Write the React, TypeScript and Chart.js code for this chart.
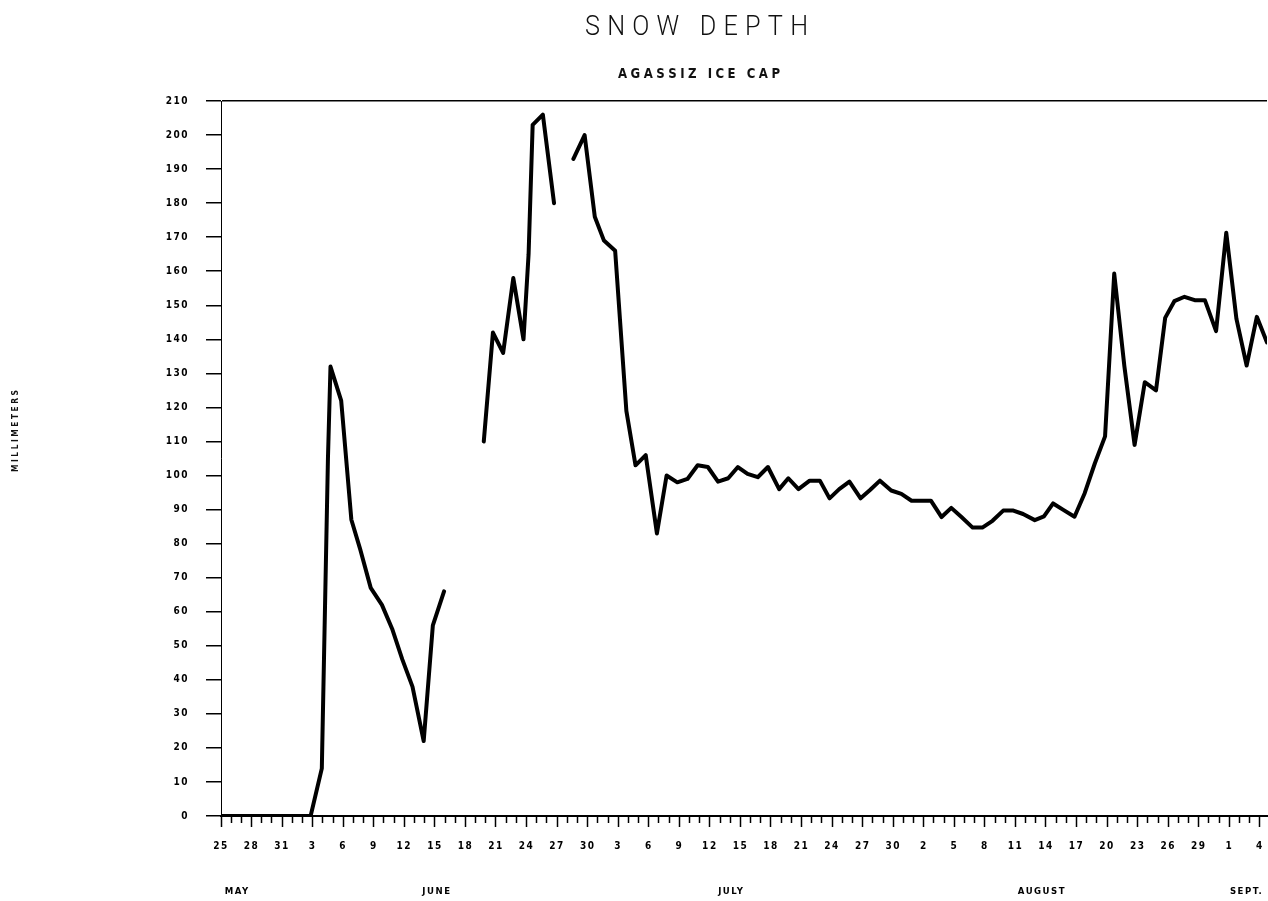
import React, { useEffect, useRef } from 'react';
import { Chart, registerables } from 'chart.js';

Chart.register(...registerables);

// ---- data (x = days since May 25, y = snow depth in mm; null = no reading) ----
const readingDays = [
  0, 0.8, 1.8, 2.8, 3.8, 4.8, 5.8, 6.8, 7.8, 8.8,
  9.9, 10.5, 10.75, 11.8, 12.8, 13.7, 14.7, 15.8, 16.8, 17.8, 18.8, 19.9, 20.8, 21.9,
  22.8,
  25.8, 26.7, 27.7, 28.7, 29.7, 30.2, 30.6, 31.6, 32.7,
  33.7,
  34.6, 35.7, 36.7, 37.6, 38.7, 39.8, 40.7, 41.7, 42.8, 43.75,
  44.8, 45.8, 46.8, 47.8, 48.8, 49.8, 50.75, 51.7, 52.7, 53.7,
  54.8, 55.7, 56.7, 57.8, 58.8, 59.75, 60.7, 61.7, 62.8, 63.75,
  64.7, 65.8, 66.8, 67.8, 68.8, 69.7, 70.75, 71.7, 72.7, 73.8,
  74.75, 75.75, 76.8, 77.8, 78.75, 79.9, 80.8, 81.7, 82.7, 83.8,
  84.8, 85.8, 86.8, 87.7, 88.7, 89.7, 90.7, 91.8, 92.7, 93.6,
  94.6, 95.6, 96.6, 97.7, 98.7, 99.7, 100.7, 101.7, 102.7,
];

const snowDepthMm: (number | null)[] = [
  0, 0, 0, 0, 0, 0, 0, 0, 0, 0,
  14, 105, 132, 122, 87, 78, 67, 62, 55, 46, 38, 22, 56, 66,
  null,
  110, 142, 136, 158, 140, 165, 203, 206, 180,
  null,
  193, 200, 176, 169, 166, 119, 103, 106, 83, 100,
  98, 99, 103, 102.5, 98.2, 99.2, 102.5, 100.5, 99.5, 102.5,
  96, 99.2, 96, 98.5, 98.5, 93.3, 96, 98.2, 93.3, 95.8,
  98.5, 95.6, 94.6, 92.6, 92.6, 92.6, 87.8, 90.5, 87.8, 84.7,
  84.7, 86.7, 89.7, 89.7, 88.7, 86.9, 88, 91.8, 89.9, 87.9,
  94.8, 103.6, 111.5, 159.3, 132, 109, 127.4, 125, 146.3, 151.2,
  152.5, 151.5, 151.5, 142.4, 171.3, 146, 132.3, 146.6, 139.1,
];

// one tick per day (0..102), labelled every third day
const dayTickLabels = [
  '25', '28', '31', '3', '6', '9', '12', '15', '18', '21', '24', '27', '30',
  '3', '6', '9', '12', '15', '18', '21', '24', '27', '30',
  '2', '5', '8', '11', '14', '17', '20', '23', '26', '29', '1', '4',
];
const dayTickCount = 103;
const xMaxDay = 102.7;

const monthLabels = ['MAY', 'JUNE', 'JULY', 'AUGUST', 'SEPT.'];
const monthLabelDays = [1.6, 21.2, 50.1, 80.6, 100.7];

const yTickValues = [0, 10, 20, 30, 40, 50, 60, 70, 80, 90, 100, 110, 120, 130, 140, 150, 160, 170, 180, 190, 200, 210];

const TITLE = 'SNOW DEPTH';
const SUBTITLE = 'AGASSIZ ICE CAP';
const Y_TITLE = 'MILLIMETERS';

const TICK_FONT = {
  family: "'DejaVu Sans Condensed', 'DejaVu Sans', sans-serif",
  weight: 'bold' as const,
  size: 10,
};

function drawFitted(
  ctx: CanvasRenderingContext2D,
  text: string,
  cx: number,
  cy: number,
  font: string,
  fontSize: number,
  width: number,
  gap: number,
  rot: number,
) {
  ctx.save();
  (ctx as any).letterSpacing = '0px';
  ctx.font = font;
  ctx.fillStyle = '#111';
  ctx.textBaseline = 'alphabetic';
  ctx.textAlign = 'left';
  const chars = Array.from(text);
  const ws = chars.map((c) => ctx.measureText(c).width);
  const natural = ws.reduce((a, b) => a + b, 0) + gap * (chars.length - 1);
  const sx = width / natural;
  ctx.translate(cx, cy);
  ctx.rotate(rot);
  ctx.scale(sx, 1);
  let x = -natural / 2;
  const base = fontSize * 0.36;
  chars.forEach((c, i) => {
    ctx.fillText(c, x, base);
    x += ws[i] + gap;
  });
  ctx.restore();
}

const scanTextPlugin = {
  id: 'scanText',
  beforeDraw(chart: any) {
    chart.ctx.letterSpacing = '1.5px';
  },
  afterDraw(chart: any) {
    const ctx = chart.ctx as CanvasRenderingContext2D;
    drawFitted(ctx, TITLE, 696.5, 25, '300 28px Roboto', 28, 223, 8, 0);
    drawFitted(ctx, SUBTITLE, 699, 73.5, "bold 13.5px 'DejaVu Sans'", 13.5, 162, 4, 0);
    drawFitted(ctx, Y_TITLE, 14.3, 431, "bold 9px 'DejaVu Sans'", 9, 82, 3, -Math.PI / 2);
  },
};

const noSidePadding = (s: any) => {
  s.paddingLeft = 0;
  s.paddingRight = 0;
};

export default function App() {
  const canvasRef = useRef<HTMLCanvasElement | null>(null);

  useEffect(() => {
    const canvas = canvasRef.current;
    if (!canvas) return;
    const points = readingDays.map((d, i) => ({ x: d, y: snowDepthMm[i] }));

    const chart = new Chart(canvas, {
      type: 'line',
      data: {
        datasets: [
          {
            data: points as any,
            borderColor: '#000',
            borderWidth: 4,
            pointRadius: 0,
            pointHoverRadius: 0,
            spanGaps: false,
            tension: 0,
            fill: false,
            borderJoinStyle: 'round',
            borderCapStyle: 'round',
          },
        ],
      },
      options: {
        animation: false,
        responsive: false,
        devicePixelRatio: 1,
        events: [],
        layout: { padding: { top: 101, right: 1, bottom: 0, left: 0 } },
        plugins: {
          legend: { display: false },
          tooltip: { enabled: false },
          title: { display: false },
        },
        scales: {
          x: {
            type: 'linear',
            position: 'bottom',
            weight: 1,
            min: 0,
            max: xMaxDay,
            afterBuildTicks: (s: any) => {
              s.ticks = Array.from({ length: dayTickCount }, (_, i) => ({ value: i }));
            },
            afterFit: (s: any) => {
              s.height = 45;
              noSidePadding(s);
            },
            border: { display: true, color: '#000', width: 2 },
            grid: {
              display: true,
              drawOnChartArea: false,
              drawTicks: true,
              tickLength: 11,
              tickWidth: 1.5,
              tickColor: '#000',
              tickBorderDash: (c: any) => (c.tick && c.tick.value % 3 === 0 ? [] : [6, 40]),
            },
            ticks: {
              autoSkip: false,
              maxRotation: 0,
              minRotation: 0,
              padding: 13,
              color: '#000',
              font: TICK_FONT,
              callback: (_v: any, i: number) => (i % 3 === 0 ? dayTickLabels[i / 3] : ''),
            },
          },
          xMonth: {
            type: 'linear',
            axis: 'x',
            position: 'bottom',
            weight: 2,
            min: 0,
            max: xMaxDay,
            afterBuildTicks: (s: any) => {
              s.ticks = monthLabelDays.map((v) => ({ value: v }));
            },
            afterFit: (s: any) => {
              s.height = 40;
              noSidePadding(s);
            },
            border: { display: false },
            grid: { display: false, drawTicks: false, tickLength: 0 },
            ticks: {
              autoSkip: false,
              maxRotation: 0,
              minRotation: 0,
              padding: 25,
              color: '#000',
              font: { ...TICK_FONT, size: 9.5 },
              callback: (_v: any, i: number) => monthLabels[i],
            },
          },
          y: {
            type: 'linear',
            position: 'left',
            min: 0,
            max: 210,
            afterBuildTicks: (s: any) => {
              s.ticks = yTickValues.map((v) => ({ value: v }));
            },
            afterFit: (s: any) => {
              s.width = 221;
            },
            border: { display: true, color: '#000', width: 1 },
            grid: {
              display: true,
              drawOnChartArea: true,
              color: (c: any) => (c.tick && c.tick.value === 210 ? '#000' : 'rgba(0,0,0,0)'),
              lineWidth: 1.5,
              drawTicks: true,
              tickLength: 15,
              tickWidth: 1.5,
              tickColor: '#000',
            },
            ticks: {
              padding: 17,
              color: '#000',
              font: TICK_FONT,
              callback: (v: any) => String(v),
            },
          },
        } as any,
      },
      plugins: [scanTextPlugin],
    });

    return () => chart.destroy();
  }, []);

  return (
    <div
      style={{
        position: 'fixed',
        left: 0,
        top: 0,
        width: 1268,
        height: 901,
        background: '#fff',
      }}
    >
      <canvas ref={canvasRef} width={1268} height={901} style={{ display: 'block' }} />
    </div>
  );
}
